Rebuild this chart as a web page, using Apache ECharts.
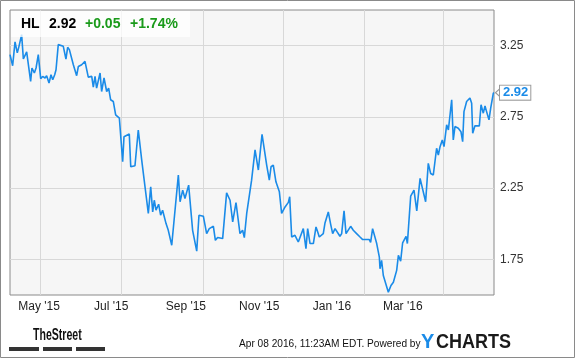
<!DOCTYPE html>
<html><head><meta charset="utf-8">
<script src="https://cdn.jsdelivr.net/npm/echarts@6/dist/echarts.min.js"></script>
<style>html,body{margin:0;padding:0;background:#fff}#c{width:575px;height:358px}</style>
</head><body><div id="c"></div><script>
const ticker = 'HL';
const changeAbs = '+0.05';
const changePct = '+1.74%';
const stampText = 'Apr 08 2016, 11:23AM EDT. Powered by';
const totalDays = 366; // Apr 08 2015 -> Apr 08 2016
const dayOffsets = [0,2,3.8,5.5,6.8,8.8,10.1,12.6,15.6,16.6,18.4,19.7,21.4,23.2,24.7,26.5,27.7,29.5,31,32.3,33.8,34.8,36.5,40.3,42.3,43.6,44.9,47.9,50.4,51.7,54.2,56.7,59.2,61.8,63,64.3,65.5,68.1,69.3,71.1,73.1,74.6,76.1,78.1,79.9,82.7,85.2,86.2,90.2,91.3,92.8,94.5,97,99.6,104.6,106.4,107.9,109.1,110.4,112.4,113.9,115.4,118,119.7,122.3,127.3,128.6,130.6,132.3,135.1,138.1,141.2,142.9,146.2,148.7,150.7,153.8,155.3,157,160.8,163.8,166.4,168.4,170.9,173.9,175.9,177.2,179,182.7,183.5,185.3,187.8,190.6,194.1,196.1,197.4,199.1,201.1,203.7,205.4,208,210.5,211.5,
213,215.5,218,221.8,223.8,225.1,226.9,229.4,231.4,232.7,233.9,236.9,238.2,240.7,242.5,244,245.8,249.5,250.8,252.6,254.1,257.6,259.6,262.1,264.7,266.7,271.7,272.7,274.2,277.3,279.3,279.8,281,282.3,286.1,288.1,289.9,292.4,293.7,294.9,295.4,296.9,299.5,300.5,303,305.5,307.6,310.1,314.3,316.3,318.1,320.1,322.6,323.9,325.2,326.9,328.2,330.2,331.5,334,335.2,336.5,339,341,342.3,343.3,345.3,347.8,349.1,349.9,351.6,354.9,356.2,357.9,359.2,360.4,362.2,363.5,365.5,366];
const prices = [3.187,3.109,3.276,3.199,3.245,3.327,3.156,3.206,2.999,3.093,3.058,3.093,3.187,3.018,3.034,3.023,3.039,2.987,3.046,3.011,3.046,3.081,3.257,3.245,3.156,3.238,3.222,3.116,3.039,3.104,3.116,3.139,3.029,3.034,2.959,3.034,2.952,3.058,2.928,3.023,2.928,2.952,2.870,2.858,2.764,2.741,2.435,2.611,2.630,2.400,2.412,2.407,2.658,2.447,2.072,2.259,2.083,2.165,2.095,2.137,2.060,2.095,2.001,1.954,1.849,2.342,2.154,2.236,2.177,2.271,1.954,1.808,2.060,2.053,1.931,1.966,1.982,1.884,1.903,1.896,2.217,2.165,2.013,2.149,1.931,1.954,1.903,2.072,2.306,2.306,2.518,2.377,2.628,2.412,2.306,2.400,2.412,2.294,2.224,2.072,2.118,2.15,2.19,
1.907,1.919,1.872,1.966,1.825,1.966,1.861,1.861,1.978,1.942,1.907,1.931,2.006,2.083,1.996,1.931,1.966,1.912,1.931,2.090,1.931,1.982,1.954,1.931,1.907,1.889,1.889,1.870,1.966,1.861,1.766,1.684,1.743,1.637,1.520,1.567,1.590,1.673,1.778,1.790,1.738,1.865,1.912,1.861,2.194,2.236,2.090,2.318,2.154,2.424,2.353,2.342,2.530,2.482,2.541,2.588,2.541,2.694,2.658,2.870,2.588,2.682,2.670,2.646,2.576,2.787,2.858,2.882,2.846,2.635,2.687,2.687,2.835,2.776,2.827,2.787,2.729,2.811,2.917,2.92];
const yTickValues = [1.75, 2.25, 2.75, 3.25];
const monthGridDays = [23, 84, 146, 207, 268, 328]; // May 1, Jul 1, Sep 1, Nov 1, Jan 1, Mar 1
const xLabelDays = [22, 76.5, 133, 188.5, 243.5, 297];
const xLabels = ["May '15", "Jul '15", "Sep '15", "Nov '15", "Jan '16", "Mar '16"];

const FONT = '"Liberation Sans", Arial, sans-serif';
const lineColor = '#1a8be8';
const lastPrice = prices[prices.length - 1];

const chart = echarts.init(document.getElementById('c'), null, {renderer: 'canvas'});
const grid = {left: 10, top: 10, width: 484, height: 285, show: true, backgroundColor: '#f6f6f6', borderColor: '#8a8a8a', borderWidth: 1};
chart.setOption({
  animation: false,
  backgroundColor: '#fff',
  grid: grid,
  xAxis: [{
    type: 'value', min: 0, max: totalDays, gridIndex: 0,
    axisLine: {show: false},
    axisTick: {show: false, customValues: monthGridDays},
    axisLabel: {show: false, customValues: monthGridDays},
    splitLine: {show: true, lineStyle: {color: '#d8d8d8', width: 1}}
  }, {
    type: 'value', min: 0, max: totalDays, gridIndex: 0, position: 'bottom',
    axisLine: {show: false},
    axisTick: {show: false, customValues: xLabelDays},
    splitLine: {show: false},
    axisLabel: {show: true, customValues: xLabelDays, margin: 6, color: '#222', fontSize: 12, fontFamily: FONT,
      formatter: function (v) { const i = xLabelDays.indexOf(v); return i >= 0 ? xLabels[i] : ''; }}
  }],
  yAxis: [{
    type: 'value', position: 'right', min: 1.5, max: 3.5,
    axisLine: {show: false},
    axisTick: {show: false, customValues: yTickValues},
    axisLabel: {show: true, customValues: yTickValues, margin: 6, color: '#333', fontSize: 12, fontFamily: FONT,
      formatter: function (v) { return v.toFixed(2); }},
    splitLine: {show: true, lineStyle: {color: '#d8d8d8', width: 1}}
  }],
  series: [{
    type: 'line', xAxisIndex: 0, yAxisIndex: 0,
    data: dayOffsets.map(function (d, i) { return [d, prices[i]]; }),
    showSymbol: false, symbol: 'none',
    lineStyle: {color: lineColor, width: 1.6},
    z: 5,
    endLabel: {show: true, distance: 6, formatter: function (p) { return p.value[1].toFixed(2); },
      color: lineColor, fontWeight: 'bold', fontSize: 13, fontFamily: FONT,
      backgroundColor: '#fff', borderColor: '#9a9a9a', borderWidth: 1, padding: [1, 2, 0, 3]},
    markPoint: {
      silent: true, symbol: 'path://M0,4 L4,0 L4,8 Z', symbolSize: [5, 9], symbolOffset: [4, 0],
      itemStyle: {color: '#fff', borderColor: '#9a9a9a', borderWidth: 1},
      label: {show: false},
      data: [{type: 'max', valueDim: 'x'}]
    }
  }],
  graphic: [
    {type: 'rect', shape: {x: 0.5, y: 0.5, width: 574, height: 357}, style: {fill: 'none', stroke: '#8a8a8a', lineWidth: 1}, z: 100},
    {type: 'rect', shape: {x: 11, y: 11, width: 179, height: 26}, style: {fill: 'rgba(255,255,255,0.75)'}, z: 50},
    {type: 'text', x: 21, y: 24, style: {text: ticker, font: 'bold 14px ' + FONT, fill: '#000', textVerticalAlign: 'middle', verticalAlign: 'middle'}, z: 51},
    {type: 'text', x: 49, y: 24, style: {text: lastPrice.toFixed(2), font: 'bold 14px ' + FONT, fill: '#000', textVerticalAlign: 'middle', verticalAlign: 'middle'}, z: 51},
    {type: 'text', x: 85, y: 24, style: {text: changeAbs, font: 'bold 14px ' + FONT, fill: '#1a9a1a', textVerticalAlign: 'middle', verticalAlign: 'middle'}, z: 51},
    {type: 'text', x: 130, y: 24, style: {text: changePct, font: 'bold 14px ' + FONT, fill: '#1a9a1a', textVerticalAlign: 'middle', verticalAlign: 'middle'}, z: 51},
    {type: 'text', x: 33, y: 336, scaleX: 0.66, style: {text: 'TheStreet', font: 'bold 16px ' + FONT, fill: '#111', textVerticalAlign: 'middle', verticalAlign: 'middle'}, z: 51},
    {type: 'rect', shape: {x: 9, y: 347, width: 30, height: 4}, style: {fill: '#333'}},
    {type: 'rect', shape: {x: 43, y: 347, width: 29, height: 4}, style: {fill: '#333'}},
    {type: 'rect', shape: {x: 76, y: 347, width: 29, height: 4}, style: {fill: '#333'}},
    {type: 'text', x: 239, y: 344, scaleX: 0.92, style: {text: stampText, font: '11px ' + FONT, fill: '#111', textVerticalAlign: 'middle', verticalAlign: 'middle'}},
    {type: 'text', x: 421, y: 342, style: {text: 'Y', font: 'bold 20px ' + FONT, fill: '#1a8be8', textVerticalAlign: 'middle', verticalAlign: 'middle'}},
    {type: 'text', x: 436, y: 342, scaleX: 0.9, style: {text: 'CHARTS', font: 'bold 20px ' + FONT, fill: '#1a1a1a', textVerticalAlign: 'middle', verticalAlign: 'middle'}}
  ]
});
</script></body></html>
